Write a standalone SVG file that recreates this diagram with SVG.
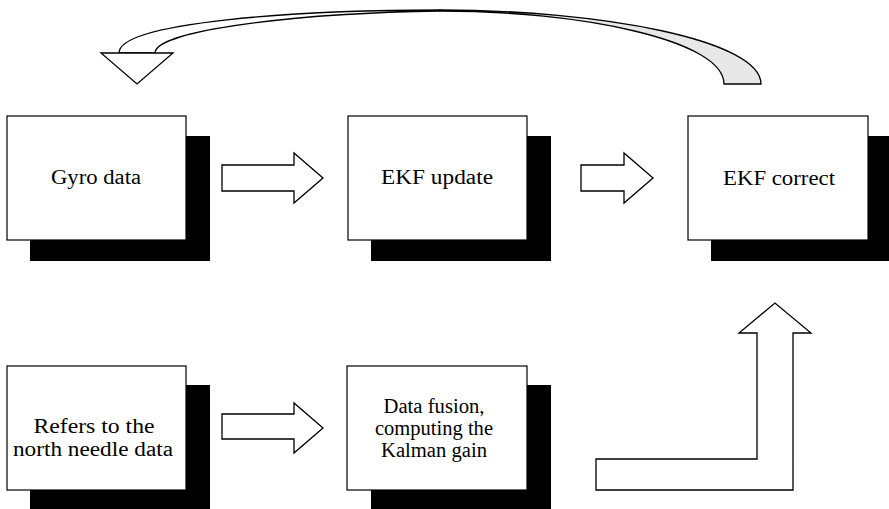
<svg xmlns="http://www.w3.org/2000/svg" width="889" height="509" viewBox="0 0 889 509">
<style>
.shadow{fill:#000}
.box{fill:#fff;stroke:#000;stroke-width:1.2}
.lbl{font-family:'Liberation Serif','Times New Roman',serif;font-size:20.5px;fill:#000;text-anchor:middle}
.arr{fill:#fff;stroke:#000;stroke-width:1.3;stroke-linejoin:miter}
.band{stroke:#000;stroke-width:1.3}
</style>
<rect width="889" height="509" fill="#fff"/>
<g id="gyro">
<rect class="shadow" x="30" y="136" width="180" height="125"/>
<rect class="box" x="7" y="116" width="179" height="124"/>
<text class="lbl" x="96" y="184" textLength="90" lengthAdjust="spacingAndGlyphs">Gyro data</text>
</g>
<g id="ekf-update">
<rect class="shadow" x="371" y="136" width="180" height="125"/>
<rect class="box" x="348" y="116" width="179" height="124"/>
<text class="lbl" x="437" y="184" textLength="112" lengthAdjust="spacingAndGlyphs">EKF update</text>
</g>
<g id="ekf-correct">
<rect class="shadow" x="711" y="136" width="180" height="125"/>
<rect class="box" x="688" y="116" width="180" height="124"/>
<text class="lbl" x="779" y="185" textLength="112" lengthAdjust="spacingAndGlyphs">EKF correct</text>
</g>
<g id="north-needle">
<rect class="shadow" x="30" y="385" width="180" height="125"/>
<rect class="box" x="7" y="366" width="179" height="124"/>
<text class="lbl" x="94" y="433" textLength="121" lengthAdjust="spacingAndGlyphs">Refers to the</text>
<text class="lbl" x="93" y="456" textLength="160" lengthAdjust="spacingAndGlyphs">north needle data</text>
</g>
<g id="data-fusion">
<rect class="shadow" x="371" y="385" width="180" height="125"/>
<rect class="box" x="347" y="366" width="180" height="124"/>
<text class="lbl" x="434" y="413" textLength="101" lengthAdjust="spacingAndGlyphs">Data fusion,</text>
<text class="lbl" x="434" y="435" textLength="118" lengthAdjust="spacingAndGlyphs">computing the</text>
<text class="lbl" x="434" y="457" textLength="106" lengthAdjust="spacingAndGlyphs">Kalman gain</text>
</g>
<g id="connectors">
<polygon class="arr" points="222,165 294,165 294,153 323,178 294,203 294,191 222,191"/>
<polygon class="arr" points="581,165 624,165 624,153 653,178 624,203 624,191 581,191"/>
<polygon class="arr" points="222,414 294,414 294,403 323,428 294,453 294,439 222,439"/>
<polygon class="arr" points="596,459 757,459 757,333 739,333 775,303 811,333 793,333 793,490 596,490"/>
<path class="band" fill="#e8e8e8" d="M440,10 C600,10 761,40 761,84 L724,84 C724,40 580,11 440,11 Z"/>
<path class="band" fill="#fff" d="M440,10 C300,10 119,22 119,53 L155,53 C155,30 300,13 440,11 Z"/>
<polygon class="arr" points="101,53 173,53 137,84"/>
</g>
</svg>
